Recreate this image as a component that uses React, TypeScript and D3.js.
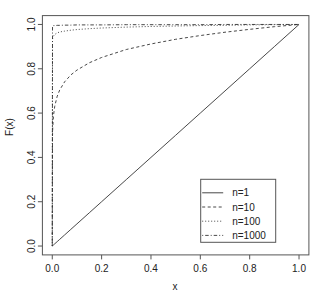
import * as d3 from 'd3';

// --- Data ---
const xs = [0, 0.001, 0.002, 0.005, 0.01, 0.02, 0.03, 0.05, 0.075, 0.1, 0.15, 0.2, 0.3, 0.4, 0.5, 0.6, 0.7, 0.8, 0.9, 1.0];
const n1 = [0, 0.001, 0.002, 0.005, 0.01, 0.02, 0.03, 0.05, 0.075, 0.1, 0.15, 0.2, 0.3, 0.4, 0.5, 0.6, 0.7, 0.8, 0.9, 1.0];
const n10 = [0, 0.501, 0.537, 0.589, 0.631, 0.676, 0.704, 0.741, 0.772, 0.794, 0.827, 0.851, 0.887, 0.912, 0.933, 0.95, 0.965, 0.978, 0.99, 1.0];
const n100 = [0, 0.933, 0.94, 0.948, 0.955, 0.962, 0.966, 0.97, 0.974, 0.977, 0.981, 0.984, 0.988, 0.991, 0.993, 0.995, 0.996, 0.998, 0.999, 1.0];
const n1000 = [0, 0.993, 0.994, 0.995, 0.995, 0.996, 0.996, 0.997, 0.997, 0.998, 0.998, 0.998, 0.999, 0.999, 0.999, 0.999, 1.0, 1.0, 1.0, 1.0];

const seriesNames = ['n=1', 'n=10', 'n=100', 'n=1000'];
const seriesValues = [n1, n10, n100, n1000];
const dashes = ['none', '3,2.5', '1,2', '1,2,3.5,2'];
const xTicks = [0, 0.2, 0.4, 0.6, 0.8, 1.0];
const yTicks = [0, 0.2, 0.4, 0.6, 0.8, 1.0];

const W = 320;
const H = 293;
const left = 42.4, right = 308.9, top = 15.6, bottom = 254.9;
const font = 'Liberation Sans, Arial, Helvetica, sans-serif';
const ink = '#333';

export default function App() {
    const x = d3.scaleLinear().domain([-0.04, 1.04]).range([left, right]);
    const y = d3.scaleLinear().domain([-0.04, 1.04]).range([bottom, top]);

    const line = d3.line<number>()
        .x((_, i) => x(xs[i]))
        .y(d => y(d));

    const lx = 200.7, ly = 179.3, lw = 75, lh = 63;

    return (
        <svg width={W} height={H} style={{ position: 'absolute', left: 0, top: 0, background: '#fff' }}>
            <rect x={0} y={0} width={W} height={H} fill="#fff" />
            {/* curves */}
            <g fill="none" stroke={ink} strokeWidth={0.9}>
                {seriesValues.map((vals, i) => (
                    <path key={i} d={line(vals) || ''} strokeDasharray={dashes[i]} />
                ))}
            </g>
            {/* frame */}
            <rect x={left} y={top} width={right - left} height={bottom - top} fill="none" stroke="#555" strokeWidth={1} />
            {/* ticks */}
            <g stroke="#555" strokeWidth={1}>
                {xTicks.map(t => (
                    <line key={t} x1={x(t)} x2={x(t)} y1={bottom} y2={bottom + 4.5} />
                ))}
                {yTicks.map(t => (
                    <line key={t} x1={left} x2={left - 4.5} y1={y(t)} y2={y(t)} />
                ))}
            </g>
            <g fontFamily={font} fontSize={10} fill="#222" textAnchor="middle">
                {xTicks.map(t => (
                    <text key={t} x={x(t)} y={271.5}>{d3.format('.1f')(t)}</text>
                ))}
                {yTicks.map(t => (
                    <text key={t} transform={`translate(${34.5},${y(t)}) rotate(-90)`}>{d3.format('.1f')(t)}</text>
                ))}
                <text x={175} y={290}>x</text>
                <text transform={`translate(${13},${127}) rotate(-90)`}>F(x)</text>
            </g>
            {/* legend */}
            <rect x={lx} y={ly} width={lw} height={lh} fill="#fff" stroke="#555" strokeWidth={1} />
            {seriesNames.map((name, i) => {
                const yy = ly + 13.5 + i * 14.2;
                return (
                    <g key={name}>
                        <line x1={lx + 1.5} x2={lx + 22.5} y1={yy} y2={yy} stroke={ink} strokeWidth={0.9} strokeDasharray={dashes[i]} />
                        <text x={lx + 31.5} y={yy + 3.5} fontFamily={font} fontSize={10} fill="#222">{name}</text>
                    </g>
                );
            })}
        </svg>
    );
}
